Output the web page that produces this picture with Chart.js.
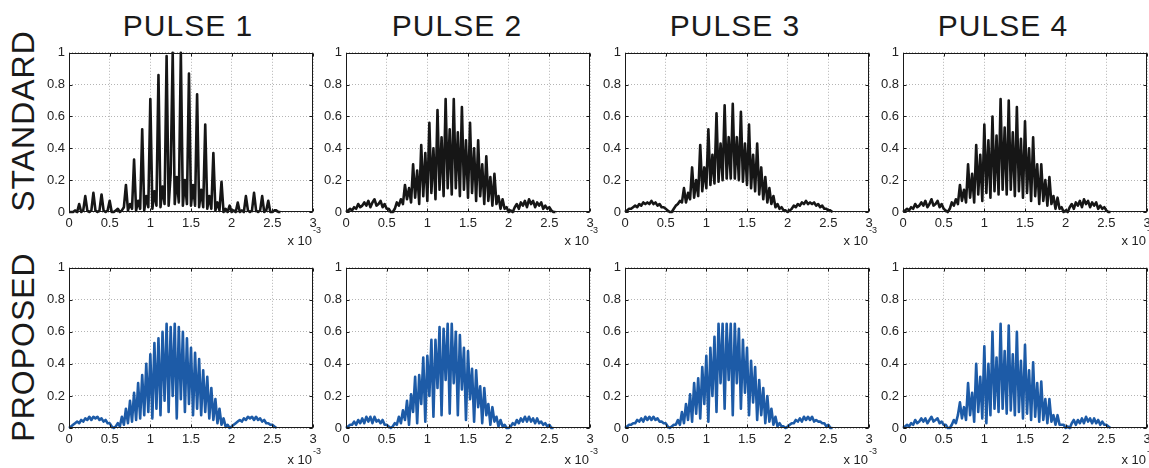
<!DOCTYPE html>
<html lang="en">
<head>
<meta charset="UTF-8" />
<title>Pulses — standard vs proposed</title>
<script src="https://cdn.jsdelivr.net/npm/chart.js"></script>
<style>
  html, body { margin: 0; padding: 0; background: #fff; overflow: hidden; }
  body { width: 1149px; height: 468px; position: relative; font-family: "Liberation Sans", Arial, sans-serif; color: #1a1a1a; }
  .title { position: absolute; top: 11px; font-size: 30px; letter-spacing: 1px; line-height: 1; white-space: nowrap; transform: translateX(-50%); }
  .row { position: absolute; font-size: 32px; letter-spacing: 1px; line-height: 1; white-space: nowrap; transform: translate(-50%, -50%) rotate(-90deg); }
  canvas { position: absolute; }
</style>
</head>
<body>
<script>
// ---- data (time axis in units of 1e-3, one sample every STEP) ----
const STEP = 0.025;
const xTicks = [0, 0.5, 1, 1.5, 2, 2.5, 3];
const xTickLabels = ['0', '0.5', '1', '1.5', '2', '2.5', '3'];
const yTicks = [0, 0.2, 0.4, 0.6, 0.8, 1];
const yTickLabels = ['0', '0.2', '0.4', '0.6', '0.8', '1'];
const pulseNames = ['PULSE 1', 'PULSE 2', 'PULSE 3', 'PULSE 4'];
const rowNames = ['STANDARD', 'PROPOSED'];

const standard1 = [
  0, 0, 0, 0.01, 0, 0.05, 0, 0.01, 0.10, 0.01,
  0, 0.01, 0.12, 0.01, 0, 0.01, 0.11, 0.01, 0, 0.01,
  0.07, 0, 0, 0.01, 0.02, 0, 0.01, 0.03, 0.17, 0.01,
  0.05, 0.02, 0.33, 0.01, 0.07, 0.02, 0.52, 0.01, 0.10, 0.03,
  0.71, 0.02, 0.13, 0.04, 0.86, 0.03, 0.16, 0.05, 0.98, 0.04,
  0.24, 1.00, 0.05, 0.22, 0.06, 1.00, 0.04, 0.20, 0.05, 0.87,
  0.04, 0.17, 0.04, 0.74, 0.03, 0.14, 0.03, 0.55, 0.02, 0.10,
  0.02, 0.37, 0.01, 0.06, 0.01, 0.19, 0, 0.02, 0, 0.04,
  0, 0.01, 0, 0.06, 0, 0.01, 0, 0.10, 0.01, 0,
  0.01, 0.12, 0.01, 0, 0.01, 0.10, 0, 0.01, 0.07, 0,
  0, 0.01, 0.01, 0, 0
];
const standard2 = [
  0, 0.01, 0.02, 0.01, 0.03, 0.02, 0.05, 0.03, 0.04, 0.06,
  0.04, 0.07, 0.03, 0.06, 0.08, 0.04, 0.05, 0.07, 0.03, 0.05,
  0.02, 0.02, 0, 0, 0.02, 0.06, 0.04, 0.08, 0.05, 0.17,
  0.08, 0.15, 0.06, 0.30, 0.09, 0.26, 0.05, 0.42, 0.10, 0.37,
  0.07, 0.56, 0.12, 0.40, 0.08, 0.64, 0.14, 0.47, 0.10, 0.71,
  0.15, 0.52, 0.11, 0.71, 0.15, 0.50, 0.10, 0.66, 0.14, 0.45,
  0.09, 0.56, 0.12, 0.40, 0.07, 0.45, 0.10, 0.30, 0.05, 0.35,
  0.07, 0.22, 0.04, 0.24, 0.05, 0.10, 0.02, 0.08, 0.02, 0.03,
  0, 0.01, 0, 0.03, 0.05, 0.02, 0.06, 0.04, 0.07, 0.03,
  0.08, 0.05, 0.07, 0.03, 0.06, 0.04, 0.06, 0.02, 0.04, 0.02,
  0.03, 0.01, 0, 0
];
const standard3 = [
  0, 0.01, 0.02, 0.02, 0.03, 0.04, 0.03, 0.05, 0.04, 0.06,
  0.05, 0.06, 0.05, 0.07, 0.05, 0.06, 0.04, 0.05, 0.03, 0.03,
  0.02, 0.01, 0, 0, 0.02, 0.04, 0.05, 0.07, 0.06, 0.15,
  0.06, 0.12, 0.08, 0.28, 0.09, 0.20, 0.10, 0.42, 0.13, 0.28,
  0.15, 0.52, 0.17, 0.36, 0.18, 0.62, 0.19, 0.43, 0.20, 0.67,
  0.21, 0.47, 0.21, 0.68, 0.21, 0.47, 0.20, 0.63, 0.19, 0.43,
  0.17, 0.55, 0.15, 0.36, 0.13, 0.43, 0.11, 0.28, 0.08, 0.22,
  0.06, 0.15, 0.05, 0.10, 0.03, 0.05, 0.02, 0.03, 0.01, 0.01,
  0, 0.01, 0.02, 0.04, 0.03, 0.05, 0.04, 0.06, 0.05, 0.07,
  0.05, 0.06, 0.05, 0.06, 0.04, 0.05, 0.03, 0.04, 0.02, 0.02,
  0.01, 0.01, 0
];
const standard4 = [
  0, 0.01, 0.02, 0.01, 0.03, 0.02, 0.05, 0.03, 0.04, 0.06,
  0.04, 0.07, 0.03, 0.05, 0.08, 0.04, 0.05, 0.07, 0.03, 0.05,
  0.02, 0.01, 0, 0.02, 0.06, 0.04, 0.08, 0.05, 0.17, 0.07,
  0.14, 0.06, 0.30, 0.09, 0.24, 0.06, 0.42, 0.11, 0.36, 0.07,
  0.55, 0.12, 0.45, 0.09, 0.60, 0.13, 0.48, 0.11, 0.71, 0.14,
  0.53, 0.11, 0.70, 0.14, 0.50, 0.10, 0.66, 0.13, 0.46, 0.09,
  0.57, 0.12, 0.40, 0.07, 0.47, 0.10, 0.30, 0.05, 0.30, 0.07,
  0.20, 0.04, 0.22, 0.05, 0.10, 0.02, 0.09, 0.02, 0.03, 0,
  0.01, 0, 0.03, 0.05, 0.02, 0.06, 0.04, 0.07, 0.03, 0.08,
  0.05, 0.07, 0.03, 0.06, 0.04, 0.06, 0.02, 0.04, 0.02, 0.03,
  0.01, 0, 0
];
const proposed1 = [
  0, 0.01, 0.02, 0.03, 0.04, 0.03, 0.05, 0.04, 0.06, 0.05,
  0.07, 0.05, 0.07, 0.06, 0.07, 0.05, 0.06, 0.04, 0.05, 0.03,
  0.03, 0.01, 0, 0.01, 0.03, 0.01, 0.07, 0.02, 0.12, 0.03,
  0.17, 0.04, 0.22, 0.05, 0.28, 0.06, 0.33, 0.08, 0.40, 0.10,
  0.46, 0.06, 0.53, 0.12, 0.56, 0.08, 0.60, 0.17, 0.65, 0.10,
  0.63, 0.20, 0.65, 0.06, 0.63, 0.18, 0.60, 0.10, 0.56, 0.15,
  0.50, 0.08, 0.47, 0.12, 0.43, 0.08, 0.36, 0.10, 0.32, 0.06,
  0.25, 0.05, 0.18, 0.03, 0.12, 0.02, 0.06, 0.01, 0.02, 0,
  0.01, 0.02, 0.03, 0.04, 0.05, 0.04, 0.06, 0.05, 0.07, 0.06,
  0.07, 0.05, 0.07, 0.05, 0.06, 0.04, 0.05, 0.03, 0.03, 0.02,
  0.02, 0.01, 0
];
const proposed2 = [
  0, 0.01, 0.02, 0.02, 0.04, 0.02, 0.05, 0.03, 0.06, 0.03,
  0.07, 0.04, 0.07, 0.03, 0.07, 0.04, 0.05, 0.03, 0.05, 0.02,
  0.02, 0.01, 0, 0.01, 0.03, 0.02, 0.07, 0.03, 0.11, 0.05,
  0.17, 0.02, 0.21, 0.10, 0.32, 0.03, 0.33, 0.15, 0.44, 0.04,
  0.45, 0.20, 0.55, 0.07, 0.55, 0.25, 0.63, 0.08, 0.62, 0.30,
  0.65, 0.09, 0.65, 0.28, 0.60, 0.08, 0.58, 0.24, 0.50, 0.05,
  0.48, 0.18, 0.37, 0.04, 0.36, 0.13, 0.26, 0.03, 0.25, 0.08,
  0.15, 0.02, 0.13, 0.04, 0.07, 0.01, 0.05, 0.01, 0.02, 0,
  0, 0.01, 0.03, 0.02, 0.05, 0.03, 0.06, 0.04, 0.07, 0.04,
  0.07, 0.04, 0.06, 0.03, 0.06, 0.03, 0.04, 0.02, 0.03, 0.01,
  0.02, 0, 0
];
const proposed3 = [
  0, 0.01, 0.02, 0.02, 0.03, 0.03, 0.05, 0.04, 0.06, 0.04,
  0.07, 0.05, 0.07, 0.05, 0.07, 0.05, 0.06, 0.04, 0.04, 0.03,
  0.03, 0.01, 0, 0.01, 0.02, 0.02, 0.05, 0.02, 0.10, 0.03,
  0.15, 0.05, 0.21, 0.04, 0.28, 0.09, 0.31, 0.06, 0.38, 0.15,
  0.45, 0.04, 0.50, 0.20, 0.57, 0.10, 0.65, 0.28, 0.65, 0.12,
  0.65, 0.30, 0.65, 0.08, 0.65, 0.28, 0.62, 0.12, 0.55, 0.22,
  0.50, 0.08, 0.42, 0.16, 0.38, 0.05, 0.30, 0.08, 0.25, 0.03,
  0.20, 0.04, 0.12, 0.02, 0.07, 0.01, 0.03, 0.01, 0.01, 0,
  0.01, 0.02, 0.03, 0.03, 0.05, 0.04, 0.06, 0.04, 0.07, 0.05,
  0.07, 0.05, 0.07, 0.04, 0.05, 0.04, 0.04, 0.03, 0.03, 0.01,
  0.02, 0, 0
];
const proposed4 = [
  0, 0.01, 0.02, 0.01, 0.03, 0.02, 0.05, 0.03, 0.04, 0.06,
  0.04, 0.06, 0.03, 0.05, 0.07, 0.04, 0.05, 0.06, 0.03, 0.04,
  0.02, 0.02, 0, 0, 0.02, 0.05, 0.03, 0.08, 0.16, 0.06,
  0.13, 0.05, 0.28, 0.08, 0.22, 0.04, 0.40, 0.10, 0.32, 0.06,
  0.51, 0.03, 0.40, 0.08, 0.60, 0.12, 0.44, 0.10, 0.65, 0.12,
  0.48, 0.09, 0.64, 0.11, 0.46, 0.08, 0.60, 0.10, 0.42, 0.06,
  0.52, 0.09, 0.36, 0.05, 0.41, 0.07, 0.28, 0.04, 0.29, 0.05,
  0.18, 0.03, 0.18, 0.04, 0.08, 0.02, 0.08, 0.02, 0.02, 0.02,
  0, 0.01, 0, 0.03, 0.05, 0.02, 0.05, 0.03, 0.06, 0.03,
  0.07, 0.04, 0.06, 0.03, 0.06, 0.03, 0.05, 0.02, 0.04, 0.02,
  0.02, 0.01, 0
];

const rows = [
  { series: [standard1, standard2, standard3, standard4], color: '#161616' },
  { series: [proposed1, proposed2, proposed3, proposed4], color: '#1d5ba7' }
];

// ---- layout ----
const colLeft = [69, 346, 625, 903];
const titleX = [188, 457, 735, 1003];
const rowTop = [49, 264];
const plotW = 244;
const plotH = [163, 164];
const rowLabelY = [120.5, 346.5];
const expY = [[33, 21], [36, 26]];   // baseline of "x 10" and of the exponent below the axes
const PAD_L = 34, PAD_R = 12, PAD_T = 8, AX_H = 22, PAD_B = 18;
const FONT = '"Liberation Sans", Arial, sans-serif';

// box, inward ticks and the "x 10^-3" note, like the original axes
const framePlugin = {
  id: 'frame',
  afterDatasetsDraw(chart, args, opts) {
    const { ctx, chartArea: a, scales: { x, y } } = chart;
    ctx.save();
    ctx.strokeStyle = '#1a1a1a';
    ctx.lineWidth = 1;
    const l = Math.round(a.left) + 0.5, t = Math.round(a.top) + 0.5;
    const r = Math.round(a.right) - 0.5, b = Math.round(a.bottom) - 0.5;
    ctx.strokeRect(l, t, r - l, b - t);
    ctx.beginPath();
    xTicks.forEach(v => {
      const px = Math.round(x.getPixelForValue(v)) + 0.5;
      ctx.moveTo(px, b); ctx.lineTo(px, b - 3);
      ctx.moveTo(px, t); ctx.lineTo(px, t + 3);
    });
    yTicks.forEach(v => {
      const py = Math.round(y.getPixelForValue(v)) + 0.5;
      ctx.moveTo(l, py); ctx.lineTo(l + 3, py);
      ctx.moveTo(r, py); ctx.lineTo(r - 3, py);
    });
    ctx.stroke();

    ctx.fillStyle = '#222';
    ctx.textBaseline = 'alphabetic';
    ctx.font = '13px ' + FONT;
    ctx.textAlign = 'right';
    ctx.fillText('x 10', a.right - 1, a.bottom + opts.exp[0]);
    ctx.font = '9px ' + FONT;
    ctx.textAlign = 'left';
    ctx.fillText('-3', a.right, a.bottom + opts.exp[1]);
    ctx.restore();
  }
};

pulseNames.forEach((name, c) => {
  const d = document.createElement('div');
  d.className = 'title';
  d.textContent = name;
  d.style.left = titleX[c] + 'px';
  document.body.appendChild(d);
});
rowNames.forEach((name, r) => {
  const d = document.createElement('div');
  d.className = 'row';
  d.textContent = name;
  d.style.left = '23px';
  d.style.top = rowLabelY[r] + 'px';
  document.body.appendChild(d);
});

rows.forEach((row, r) => {
  row.series.forEach((values, c) => {
    const cv = document.createElement('canvas');
    cv.width = PAD_L + plotW + PAD_R;
    cv.height = PAD_T + plotH[r] + AX_H + PAD_B;
    cv.style.left = (colLeft[c] - PAD_L) + 'px';
    cv.style.top = (rowTop[r] - PAD_T) + 'px';
    document.body.appendChild(cv);

    const points = values.map((v, i) => ({ x: i * STEP, y: v }));
    const tickFont = { family: FONT, size: 13 };

    new Chart(cv, {
      type: 'line',
      data: {
        datasets: [{
          data: points,
          borderColor: row.color,
          borderWidth: 2.6,
          borderJoinStyle: 'round',
          pointRadius: 0,
          tension: 0,
          fill: false,
          clip: false
        }]
      },
      options: {
        responsive: false,
        animation: false,
        events: [],
        layout: { padding: { top: PAD_T, right: PAD_R, bottom: PAD_B, left: 0 } },
        plugins: { legend: { display: false }, tooltip: { enabled: false }, frame: { exp: expY[r] } },
        scales: {
          x: {
            type: 'linear', min: 0, max: 3,
            afterBuildTicks: s => { s.ticks = xTicks.map(v => ({ value: v })); },
            afterFit: s => { s.height = AX_H; },
            ticks: { callback: (v, i) => xTickLabels[i], autoSkip: false, maxRotation: 0, minRotation: 0,
                     padding: 4, color: '#222', font: tickFont },
            grid: { color: '#b4b4b4', lineWidth: 1, drawTicks: false },
            border: { display: false, dash: [1, 2] }
          },
          y: {
            min: 0, max: 1,
            afterBuildTicks: s => { s.ticks = yTicks.map(v => ({ value: v })); },
            afterFit: s => { s.width = PAD_L; },
            ticks: { callback: (v, i) => yTickLabels[i], padding: 4, color: '#222', font: tickFont },
            grid: { color: '#b4b4b4', lineWidth: 1, drawTicks: false },
            border: { display: false, dash: [1, 2] }
          }
        }
      },
      plugins: [framePlugin]
    });
  });
});
</script>
</body>
</html>
